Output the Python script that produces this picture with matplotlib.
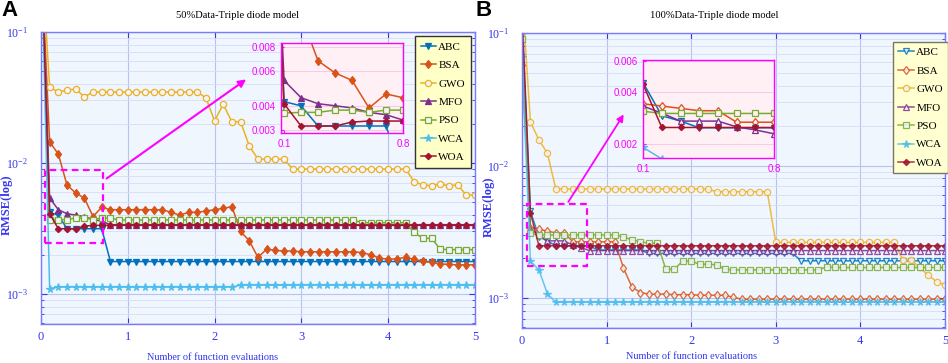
import numpy as np
import matplotlib.pyplot as plt
from matplotlib.patches import Rectangle
from matplotlib.ticker import LogLocator, NullFormatter, FixedLocator, FormatStrFormatter

plt.rcParams['font.family'] = ['Liberation Serif', 'DejaVu Serif']
plt.rcParams['mathtext.fontset'] = 'stix'

# evaluation axis, one marker every 0.1
x_eval = np.round(np.arange(0, 5.01, 0.1), 1)

names = ['ABC', 'BSA', 'GWO', 'MFO', 'PSO', 'WCA', 'WOA']
colors = ['#0072BD', '#D95319', '#EDB120', '#7E2F8E', '#77AC30', '#4DBEEE', '#A2142F']
markers = ['v', 'd', 'o', '^', 's', '*', 'D']

# ---- 50% data
abc_50 = [0.5, 0.0042, 0.0040, 0.00315, 0.00315, 0.00315, 0.00315, 0.00315,
          0.00177, 0.00177, 0.00177, 0.00177, 0.00177, 0.00177, 0.00177, 0.00177, 0.00177, 0.00177,
          0.00177, 0.00177, 0.00177, 0.00177, 0.00177, 0.00177, 0.00177, 0.00177, 0.00177, 0.00177,
          0.00177, 0.00177, 0.00177, 0.00177, 0.00177, 0.00177, 0.00177, 0.00177, 0.00177, 0.00177,
          0.00177, 0.00177, 0.00177, 0.00177, 0.00177, 0.00177, 0.00177, 0.00177, 0.00177, 0.00177,
          0.00177, 0.00177, 0.00177]
bsa_50 = [0.4, 0.0145, 0.0117, 0.0068, 0.0059, 0.0054, 0.0039, 0.0046,
          0.0044, 0.0044, 0.0044, 0.0044, 0.0044, 0.0044, 0.0044,
          0.0042, 0.0040, 0.0042, 0.0042, 0.0043, 0.0044, 0.0045, 0.00465, 0.0030, 0.00255, 0.0019, 0.0022,
          0.00215, 0.00213, 0.00213, 0.0021, 0.0021, 0.0021, 0.0021, 0.0021, 0.0021, 0.0021,
          0.00207, 0.00199, 0.00188, 0.00184, 0.00186, 0.0019, 0.00184, 0.00178, 0.00174, 0.0017,
          0.00168, 0.00167, 0.00167, 0.00167]
gwo_50 = [0.45, 0.038, 0.0348, 0.036, 0.0367, 0.032,
          0.0348, 0.0348, 0.0348, 0.0348, 0.0348, 0.0348, 0.0348, 0.0348, 0.0348, 0.0348, 0.0348,
          0.0348, 0.0348,
          0.0314, 0.021, 0.028, 0.0206, 0.0206, 0.0135,
          0.0107, 0.0107, 0.0107, 0.0107,
          0.009, 0.009, 0.009, 0.009, 0.009, 0.009, 0.009, 0.009, 0.009, 0.009, 0.009, 0.009, 0.009, 0.009,
          0.0072, 0.0068, 0.0067, 0.0069, 0.0067, 0.0068, 0.0057, 0.0057]
mfo_50 = [0.5, 0.0054, 0.0044, 0.0041, 0.0040, 0.0039, 0.0037, 0.0036,
          0.00338, 0.00338, 0.00338, 0.00338, 0.00338, 0.00338, 0.00338, 0.00338, 0.00338, 0.00338,
          0.00338, 0.00338, 0.00338, 0.00338, 0.00338, 0.00338, 0.00338, 0.00338, 0.00338, 0.00338,
          0.00338, 0.00338, 0.00338, 0.00338, 0.00338, 0.00338, 0.00338, 0.00338, 0.00338, 0.00338,
          0.00338, 0.00338, 0.00338, 0.00338, 0.00338, 0.00338, 0.00338, 0.00338, 0.00338, 0.00338,
          0.00338, 0.00338, 0.00338]
pso_50 = [0.5, 0.00367, 0.0037, 0.0037, 0.0038, 0.0038, 0.0037, 0.0038, 0.0038,
          0.00367, 0.00367, 0.00367, 0.00367, 0.00367, 0.00367, 0.00367, 0.00367, 0.00367, 0.00367,
          0.00367, 0.00367, 0.00367, 0.00367, 0.00367, 0.00367, 0.00367, 0.00367, 0.00367, 0.00367,
          0.00367, 0.00367, 0.00367, 0.00367, 0.00367, 0.00367, 0.00367, 0.00367,
          0.0035, 0.0035, 0.0035, 0.0035, 0.0035, 0.0035,
          0.00295, 0.00266, 0.00266, 0.0022, 0.00218, 0.00218, 0.00218, 0.00218]
wca_50 = [0.5, 0.0011,
          0.00113, 0.00113, 0.00113, 0.00113, 0.00113, 0.00113, 0.00113, 0.00113, 0.00113, 0.00113,
          0.00113, 0.00113, 0.00113, 0.00113, 0.00113, 0.00113, 0.00113, 0.00113, 0.00113, 0.00113,
          0.00113,
          0.00117, 0.00117, 0.00117, 0.00117, 0.00117, 0.00117, 0.00117, 0.00117, 0.00117, 0.00117,
          0.00117, 0.00117, 0.00117, 0.00117, 0.00117, 0.00117, 0.00117, 0.00117, 0.00117, 0.00117,
          0.00117, 0.00117, 0.00117, 0.00117, 0.00117, 0.00117, 0.00117, 0.00117]
woa_50 = [0.5, 0.0041, 0.00315, 0.00315, 0.00315, 0.0033,
          0.00334, 0.00334, 0.00334, 0.00334, 0.00334, 0.00334, 0.00334, 0.00334, 0.00334, 0.00334,
          0.00334, 0.00334, 0.00334, 0.00334, 0.00334, 0.00334, 0.00334, 0.00334, 0.00334, 0.00334,
          0.00334, 0.00334, 0.00334, 0.00334, 0.00334, 0.00334, 0.00334, 0.00334, 0.00334, 0.00334,
          0.00334, 0.00334, 0.00334, 0.00334, 0.00334, 0.00334, 0.00334, 0.00334, 0.00334, 0.00334,
          0.00334, 0.00334, 0.00334, 0.00334, 0.00334]

# ---- 100% data
abc_100 = [0.12, 0.0045, 0.0029, 0.0027, 0.00247, 0.00247, 0.00247, 0.00247, 0.00247,
           0.0023, 0.0023, 0.0023, 0.0023, 0.0023, 0.0023,
           0.00217, 0.00217, 0.00217, 0.00217, 0.00217, 0.00217, 0.00217, 0.00217, 0.00217,
           0.00217, 0.00217, 0.00217, 0.00217, 0.00217, 0.00217, 0.00217, 0.00217, 0.00217,
           0.00191, 0.00191, 0.00191, 0.00191, 0.00191, 0.00191, 0.00191, 0.00191, 0.00191,
           0.00191, 0.00191, 0.00191, 0.00191, 0.00191, 0.00191, 0.00191, 0.00191, 0.00191]
bsa_100 = [0.057, 0.0034, 0.0033, 0.0032, 0.0031, 0.0031,
           0.00266, 0.00266, 0.00266, 0.00266, 0.00266, 0.00266,
           0.00168, 0.00121, 0.0011,
           0.00107, 0.00107, 0.00107, 0.00106, 0.00106, 0.00106, 0.00105, 0.00105, 0.00105, 0.00105,
           0.00101,
           0.00098, 0.00098, 0.00098, 0.00098, 0.00098, 0.00098, 0.00098, 0.00098, 0.00098, 0.00098,
           0.00098, 0.00098, 0.00098, 0.00098, 0.00098, 0.00098, 0.00098, 0.00098, 0.00098, 0.00098,
           0.00098, 0.00098, 0.00098, 0.00098, 0.00098]
gwo_100 = [0.2, 0.0213, 0.0156, 0.0124,
           0.00665, 0.00665, 0.00665, 0.00665, 0.00665, 0.00665, 0.00665, 0.00665, 0.00665, 0.00665,
           0.00665, 0.00665, 0.00665, 0.00665, 0.00665, 0.00665, 0.00665, 0.00665, 0.00665,
           0.00634, 0.00634, 0.00634, 0.00634, 0.00634, 0.00634, 0.00634,
           0.00263, 0.00263, 0.00263, 0.00263, 0.00263, 0.00263, 0.00263, 0.00263, 0.00263, 0.00263,
           0.00263, 0.00263, 0.00263, 0.00263, 0.00263,
           0.00194, 0.00194, 0.0017, 0.00149, 0.00133, 0.00125]
mfo_100 = [0.12, 0.0033, 0.0030, 0.0027, 0.0027, 0.0027, 0.0025, 0.0024,
           0.00228, 0.00228, 0.00228, 0.00228, 0.00228, 0.00228, 0.00228, 0.00228, 0.00228, 0.00228,
           0.00228, 0.00228, 0.00228, 0.00228, 0.00228, 0.00228, 0.00228, 0.00228, 0.00228, 0.00228,
           0.00228, 0.00228, 0.00228, 0.00228, 0.00228, 0.00228, 0.00228, 0.00228, 0.00228, 0.00228,
           0.00228, 0.00228, 0.00228, 0.00228, 0.00228, 0.00228, 0.00228, 0.00228, 0.00228, 0.00228,
           0.00228, 0.00228, 0.00228]
pso_100 = [0.09, 0.00308,
           0.00299, 0.00299, 0.00299, 0.00299, 0.00299, 0.00299, 0.00299, 0.00299, 0.00299, 0.00299,
           0.0029, 0.00274, 0.00266, 0.00259, 0.00259, 0.00165, 0.00165, 0.0019, 0.0019, 0.0018,
           0.0018, 0.00178,
           0.00165, 0.00163, 0.00163, 0.00163, 0.00163, 0.00163, 0.00163, 0.00163, 0.00163, 0.00163,
           0.00163, 0.00163,
           0.00172,
           0.0017, 0.0017, 0.0017, 0.0017, 0.0017, 0.0017, 0.0017, 0.0017, 0.0017, 0.0017,
           0.0017, 0.0017, 0.0017, 0.0017]
wca_100 = [0.066, 0.0019, 0.00163, 0.00108,
           0.00093, 0.00093, 0.00093, 0.00093, 0.00093, 0.00093, 0.00093, 0.00093, 0.00093, 0.00093,
           0.00093, 0.00093, 0.00093, 0.00093, 0.00093, 0.00093, 0.00093, 0.00093, 0.00093, 0.00093,
           0.00093, 0.00093, 0.00093, 0.00093, 0.00093, 0.00093, 0.00093, 0.00093, 0.00093, 0.00093,
           0.00093, 0.00093, 0.00093, 0.00093, 0.00093, 0.00093, 0.00093, 0.00093, 0.00093, 0.00093,
           0.00093, 0.00093, 0.00093, 0.00093, 0.00093, 0.00093, 0.00093]
woa_100 = [0.15, 0.0044,
           0.00248, 0.00248, 0.00248, 0.00248, 0.00248, 0.00248, 0.00248, 0.00248, 0.00248, 0.00248,
           0.00248, 0.00248, 0.00248, 0.00248, 0.00248, 0.00248, 0.00248, 0.00248, 0.00248, 0.00248,
           0.00248, 0.00248, 0.00248, 0.00248, 0.00248, 0.00248, 0.00248, 0.00248, 0.00248, 0.00248,
           0.00248, 0.00248, 0.00248, 0.00248, 0.00248, 0.00248, 0.00248, 0.00248, 0.00248, 0.00248,
           0.00248, 0.00248, 0.00248, 0.00248, 0.00248, 0.00248, 0.00248, 0.00248, 0.00248]

series_50 = [abc_50, bsa_50, gwo_50, mfo_50, pso_50, wca_50, woa_50]
series_100 = [abc_100, bsa_100, gwo_100, mfo_100, pso_100, wca_100, woa_100]

BLUE = '#3535f0'
MAG = '#ff00ff'


def marker_style(mk, light):
    ms = 3.2 if mk == 'D' else 4.5
    if mk == '*':
        ms = 5.5
    hollow = mk in ('o', 's') or (light and mk not in ('*', 'D'))
    return ms, hollow


def draw_lines(ax, series, light=False):
    lines = []
    for name, col, mk, ys in zip(names, colors, markers, series):
        ms, hollow = marker_style(mk, light)
        ln, = ax.plot(x_eval, ys, color=col, lw=1.1, marker=mk, ms=ms,
                      mfc='#f4f4ff' if hollow else col, mec=col, mew=0.9,
                      alpha=0.85 if light else 1.0, label=name)
        lines.append(ln)
    return lines


def style_main(ax, ylim):
    ax.set_yscale('log')
    ax.set_xlim(0, 5)
    ax.set_ylim(*ylim)
    ax.set_facecolor('#f0f6fd')
    ax.set_xticks([0, 1, 2, 3, 4, 5])
    ax.yaxis.set_major_locator(LogLocator(base=10, numticks=10))
    ax.yaxis.set_minor_locator(LogLocator(base=10, subs=np.arange(2, 10), numticks=10))
    ax.yaxis.set_minor_formatter(NullFormatter())
    ax.grid(which='major', color='#b9c3f2', lw=0.8)
    ax.grid(which='minor', axis='y', color='#d6dcf5', lw=0.6)
    ax.set_axisbelow(True)
    ax.tick_params(which='both', direction='in', top=True, right=True, colors=BLUE,
                   labelsize=9, pad=5)
    ax.tick_params(axis='y', pad=9, labelsize=8.5)
    ax.tick_params(which='major', length=4)
    ax.tick_params(which='minor', length=2)
    for s in ax.spines.values():
        s.set_color('#7a7aff')
        s.set_linewidth(1.0)


def draw_inset(fig, rect, series, xlim, ylim, yticks, light=False):
    ins = fig.add_axes(rect)
    ins.set_yscale('log')
    for name, col, mk, ys in zip(names, colors, markers, series):
        ms, hollow = marker_style(mk, light)
        ins.plot(x_eval, ys, color=col, lw=1.1, marker=mk, ms=ms,
                 mfc='#fff0f5' if hollow else col, mec=col, mew=0.9)
    ins.set_xlim(*xlim)
    ins.set_ylim(*ylim)
    ins.set_facecolor('#fff0f5')
    ins.yaxis.set_major_locator(FixedLocator(yticks))
    ins.yaxis.set_major_formatter(FormatStrFormatter('%.3f'))
    ins.yaxis.set_minor_locator(FixedLocator([]))
    ins.set_xticks([0.1, 0.8])
    ins.xaxis.set_major_formatter(FormatStrFormatter('%.1f'))
    ins.grid(axis='y', color='#f6c8e6', lw=0.7)
    ins.tick_params(which='both', colors=MAG, labelsize=7, length=2, direction='in', pad=4)
    for lab in ins.get_xticklabels() + ins.get_yticklabels():
        lab.set_family('Liberation Sans')
    for s in ins.spines.values():
        s.set_color(MAG)
        s.set_linewidth(1.0)
    return ins


def labels(ax, title, tpos, xpos, ypos):
    ax.text(tpos[0], tpos[1], title, transform=ax.transAxes,
            ha='center', va='center', fontsize=7.6)
    ax.set_xlabel('Number of function evaluations', fontsize=7.4, color=BLUE)
    ax.xaxis.set_label_coords(*xpos)
    ax.xaxis.label.set_va('center')
    ax.set_ylabel('RMSE(log)', fontsize=9, color=BLUE, fontweight='bold')
    ax.yaxis.set_label_coords(*ypos)
    ax.yaxis.label.set_va('center')


fig = plt.figure(figsize=(9.48, 3.63), dpi=100)

# ---------------- panel A
ax1 = fig.add_axes([0.0432, 0.1074, 0.4578, 0.8045])
style_main(ax1, (5.9e-4, 0.1))
h1 = draw_lines(ax1, series_50)
ax1.add_patch(Rectangle((0.046, 0.00245), 0.72 - 0.046, 0.00885 - 0.00245, fill=False,
                        ec=MAG, lw=1.6, ls=(0, (3, 2)), zorder=6))
ax1.annotate('', xy=(2.39, 0.0447), xytext=(0.73, 0.0074),
             arrowprops=dict(arrowstyle='-|>', color=MAG, lw=1.5, mutation_scale=11), zorder=6)
ax1.legend(handles=h1, loc='upper left', bbox_to_anchor=(0.862, 0.985), fontsize=8,
           facecolor='#ffffc8', edgecolor='#333333', framealpha=1, fancybox=False,
           handlelength=1.4, handletextpad=0.2, labelspacing=0.78, borderpad=0.5,
           borderaxespad=0, numpoints=1)
labels(ax1, '50%Data-Triple diode model', (0.452, 1.058), (0.396, -0.113), (-0.078, 0.41))

draw_inset(fig, [0.2964, 0.6336, 0.1287, 0.248], series_50, (0.082, 0.8),
           (0.0029, 0.0084), [0.003, 0.004, 0.006, 0.008])

# ---------------- panel B
ax2 = fig.add_axes([0.5506, 0.0964, 0.4462, 0.8127])
style_main(ax2, (5.94e-4, 0.1))
h2 = draw_lines(ax2, series_100, light=True)
ax2.add_patch(Rectangle((0.06, 0.00175), 0.77 - 0.06, 0.00513 - 0.00175, fill=False,
                        ec=MAG, lw=1.6, ls=(0, (3, 2)), zorder=6))
ax2.annotate('', xy=(1.22, 0.0253), xytext=(0.53, 0.0051),
             arrowprops=dict(arrowstyle='-|>', color=MAG, lw=1.3, mutation_scale=10), zorder=6)
ax2.legend(handles=h2, loc='upper left', bbox_to_anchor=(0.877, 0.97), fontsize=8,
           facecolor='#ffffd2', edgecolor='#777766', framealpha=1, fancybox=False,
           handlelength=1.4, handletextpad=0.2, labelspacing=0.78, borderpad=0.5,
           borderaxespad=0, numpoints=1)
labels(ax2, '100%Data-Triple diode model', (0.454, 1.061), (0.40, -0.098), (-0.078, 0.41))

draw_inset(fig, [0.6783, 0.5647, 0.1382, 0.27], series_100, (0.0995, 0.8),
           (0.00165, 0.0061), [0.002, 0.004, 0.006], light=True)

fig.text(0.001, 0.972, 'A', fontsize=16, fontweight='bold', family='Liberation Sans',
         ha='left', va='center')
fig.text(0.502, 0.972, 'B', fontsize=16, fontweight='bold', family='Liberation Sans',
         ha='left', va='center')

fig.savefig('out.png', dpi=100)
